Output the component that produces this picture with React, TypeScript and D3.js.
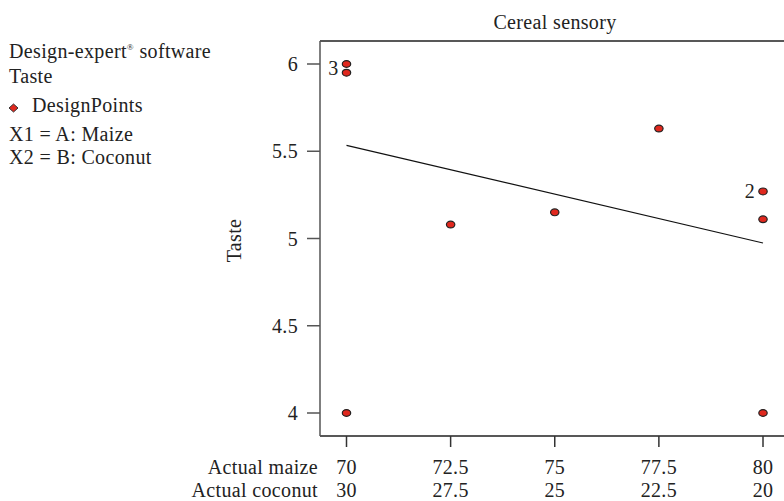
import React from 'react';
import * as d3 from 'd3';

// design points (maize %, taste)
const maize = [70, 70, 72.5, 75, 77.5, 80, 80, 70, 80];
const taste = [6.0, 5.95, 5.08, 5.15, 5.63, 5.27, 5.11, 4.0, 4.0];
// replicate counts shown next to points
const pointLabels = [
  { x: 70, y: 5.975, text: '3' },
  { x: 80, y: 5.27, text: '2' },
];
// fitted line end values
const fitX = [70, 80];
const fitY = [5.534, 4.974];

const xTicks = [70, 72.5, 75, 77.5, 80];
const coconutLabels = ['30', '27.5', '25', '22.5', '20'];
const yTicks = [4, 4.5, 5, 5.5, 6];

const legendLines = ['Design-expert® software', 'Taste', 'DesignPoints', 'X1 = A: Maize', 'X2 = B: Coconut'];

const font = '"Liberation Serif", "DejaVu Serif", serif';

export default function App() {
  const width = 784;
  const height = 501;
  const left = 320;
  const top = 41;
  const bottom = 436;
  const right = 792;

  const x = d3.scaleLinear().domain([70, 80]).range([346.5, 763]);
  const y = d3.scaleLinear().domain([4, 6]).range([413, 64]);

  const line = d3.line<number>()
    .x((d, i) => x(fitX[i]))
    .y(d => y(d));

  const fs = 20;
  const ls = 0.35;

  return (
    <svg width={width} height={height} style={{ position: 'absolute', left: 0, top: 0 }} fontFamily={font} letterSpacing={ls}>
      <rect width={width} height={height} fill="#fff" />

      {/* legend block */}
      <text x={9} y={58} fontSize={fs} fill="#222">
        Design-expert<tspan fontSize={9} dy={-8}>®</tspan><tspan dy={8}> software</tspan>
      </text>
      <text x={9} y={83} fontSize={fs} fill="#222">{legendLines[1]}</text>
      <path d="M9,108 L13.5,104 L18,108 L13.5,112 Z" fill="#e0281e" stroke="#333" strokeWidth={1} />
      <text x={32} y={112} fontSize={fs} fill="#222">{legendLines[2]}</text>
      <text x={9} y={141} fontSize={fs} fill="#222">{legendLines[3]}</text>
      <text x={9} y={164} fontSize={fs} fill="#222">{legendLines[4]}</text>

      {/* title */}
      <text x={555} y={29} fontSize={fs} textAnchor="middle" fill="#222">Cereal sensory</text>

      {/* frame */}
      <path d={`M${left},${top} H${right} M${left},${bottom} H${right}`} stroke="#222" strokeWidth={1.5} fill="none" />
      <line x1={left} x2={left} y1={top} y2={bottom} stroke="#555" strokeWidth={1.5} />

      {/* y axis */}
      {yTicks.map(t => (
        <g key={t}>
          <line x1={307} x2={left} y1={y(t)} y2={y(t)} stroke="#555" strokeWidth={1.5} />
          <text x={298} y={y(t)} dy="0.35em" fontSize={fs} textAnchor="end" fill="#222">{t}</text>
        </g>
      ))}
      <text transform={`translate(241,${(top + bottom) / 2 + 2}) rotate(-90)`} fontSize={fs} textAnchor="middle" fill="#222">Taste</text>

      {/* x axis */}
      {xTicks.map((t, i) => (
        <g key={t}>
          <line x1={x(t)} x2={x(t)} y1={bottom} y2={447} stroke="#333" strokeWidth={1.5} />
          <text x={x(t)} y={474} fontSize={fs} textAnchor="middle" fill="#222">{t}</text>
          <text x={x(t)} y={497} fontSize={fs} textAnchor="middle" fill="#222">{coconutLabels[i]}</text>
        </g>
      ))}
      <text x={318} y={474} fontSize={fs} textAnchor="end" fill="#222">Actual maize</text>
      <text x={318} y={497} fontSize={fs} textAnchor="end" fill="#222">Actual coconut</text>

      {/* fitted line */}
      <path d={line(fitY) || ''} stroke="#111" strokeWidth={1.2} fill="none" />

      {/* points */}
      {maize.map((m, i) => (
        <ellipse key={i} cx={x(m)} cy={y(taste[i])} rx={4.2} ry={3.4} fill="#e0281e" stroke="#222" strokeWidth={1.2} />
      ))}
      {pointLabels.map((p, i) => (
        <text key={i} x={x(p.x) - 8} y={y(p.y)} dy="0.35em" fontSize={fs} textAnchor="end" fill="#222">{p.text}</text>
      ))}
    </svg>
  );
}
